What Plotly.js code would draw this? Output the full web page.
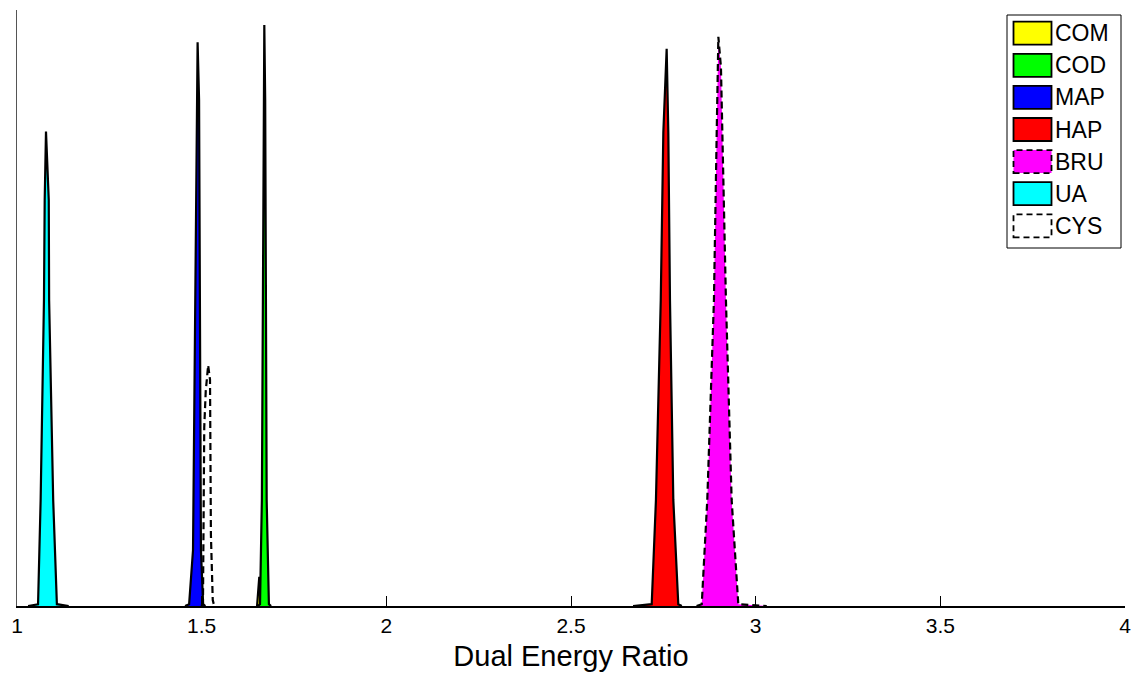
<!DOCTYPE html>
<html>
<head>
<meta charset="utf-8">
<script src="https://cdn.plot.ly/plotly-3.0.1.min.js"></script>
<style>html,body{margin:0;padding:0;background:#fff;}#chart{width:1139px;height:676px;}</style>
</head>
<body>
<div id="chart"></div>
<script>
// ---- data ----
var seriesNames = ["COM", "COD", "MAP", "HAP", "BRU", "UA", "CYS"];
var seriesColors = ["#ffff00", "#00ff00", "#0000ff", "#ff0000", "#ff00ff", "#00ffff", "#ffffff"];
var seriesDash = ["solid", "solid", "solid", "solid", "dash", "solid", "dash"];

var comX = [1.650, 1.653, 1.656, 1.659, 1.662];
var comY = [0, 0.02, 0.049, 0.02, 0];

var codX = [1.652, 1.658, 1.663, 1.666, 1.668, 1.6696, 1.672, 1.674, 1.676, 1.682, 1.688];
var codY = [0, 0.003, 0.178, 0.513, 0.849, 0.975, 0.849, 0.513, 0.178, 0.003, 0];

var mapX = [1.455, 1.466, 1.4766, 1.483, 1.487, 1.489, 1.493, 1.495, 1.498, 1.504, 1.51];
var mapY = [0, 0.003, 0.094, 0.513, 0.849, 0.946, 0.849, 0.513, 0.094, 0.003, 0];

var hapX = [2.668, 2.7185, 2.730, 2.743, 2.750, 2.759, 2.7635, 2.768, 2.777, 2.7905, 2.80];
var hapY = [0, 0.003, 0.178, 0.513, 0.794, 0.935, 0.794, 0.513, 0.178, 0.003, 0];

var bruX = [2.84, 2.854, 2.869, 2.887, 2.8945, 2.897, 2.899, 2.906, 2.91, 2.9195, 2.935, 2.953, 3.03];
var bruY = [0, 0.003, 0.178, 0.513, 0.794, 0.904, 0.955, 0.904, 0.794, 0.513, 0.178, 0.003, 0];

var uaX = [1.03, 1.057, 1.064, 1.073, 1.075, 1.0785, 1.086, 1.087, 1.098, 1.108, 1.14];
var uaY = [0, 0.003, 0.178, 0.513, 0.681, 0.796, 0.681, 0.513, 0.178, 0.003, 0];

var cysX = [1.50, 1.5036, 1.507, 1.511, 1.5175, 1.5226, 1.525, 1.530, 1.534];
var cysY = [0, 0.01, 0.30, 0.36, 0.404, 0.38, 0.12, 0.01, 0];

var tickVals = [1, 1.5, 2, 2.5, 3, 3.5, 4];
var tickText = ["1", "1.5", "2", "2.5", "3", "3.5", "4"];
var xTitle = "Dual Energy Ratio";

// ---- build traces ----
var xs = [comX, codX, mapX, hapX, bruX, uaX, cysX];
var ys = [comY, codY, mapY, hapY, bruY, uaY, cysY];
var FONT = "Liberation Sans, Arial, Helvetica, sans-serif";
var traces = [];
for (var i = 0; i < seriesNames.length; i++) {
  var isOutline = seriesNames[i] === "CYS";
  var dashed = seriesDash[i] === "dash";
  traces.push({
    type: "scatter",
    mode: "lines",
    name: seriesNames[i],
    x: xs[i],
    y: ys[i],
    fill: isOutline ? "none" : "toself",
    fillcolor: seriesColors[i],
    line: {color: "#000000", width: dashed ? 2.2 : 2.2, dash: dashed ? "7px,4px" : "solid"},
    hoverinfo: "name+x",
    showlegend: false
  });
}

// ---- custom MATLAB-style legend (layout only) ----
var W = 1139, H = 676, mL = 17, mR = 14, mT = 10, mB = 70;
var plotW = W - mL - mR, plotH = H - mT - mB;
function px2x(p) { return (p - mL) / plotW; }
function py2y(p) { return (H - mB - p) / plotH; }

var shapes = [{
  type: "rect", xref: "paper", yref: "paper",
  x0: px2x(1007), x1: px2x(1121), y0: py2y(248), y1: py2y(15),
  line: {color: "#000000", width: 1}, fillcolor: "#ffffff", layer: "above"
}];
var annotations = [];
for (var k = 0; k < seriesNames.length; k++) {
  var rowTop = 21.7 + 32.1 * k;
  shapes.push({
    type: "rect", xref: "paper", yref: "paper",
    x0: px2x(1013.5), x1: px2x(1051.5), y0: py2y(rowTop + 23), y1: py2y(rowTop),
    line: {color: "#000000", width: 1.8, dash: seriesDash[k] === "dash" ? "6px,4px" : "solid"},
    fillcolor: seriesColors[k], layer: "above"
  });
  annotations.push({
    xref: "paper", yref: "paper", x: px2x(1053), y: py2y(rowTop + 11.5),
    xanchor: "left", yanchor: "middle", showarrow: false,
    text: seriesNames[k], font: {family: FONT, size: 23, color: "#000000"}
  });
}

var layout = {
  width: W, height: H,
  margin: {l: mL, r: mR, t: mT, b: mB, pad: 0},
  paper_bgcolor: "#ffffff", plot_bgcolor: "#ffffff",
  showlegend: false,
  font: {family: FONT, color: "#000000"},
  xaxis: {
    range: [1, 4], tickmode: "array", tickvals: tickVals, ticktext: tickText,
    ticks: "inside", ticklen: 10, tickwidth: 1, tickcolor: "#000000",
    showline: true, linecolor: "#000000", linewidth: 1.5, showgrid: false, zeroline: false,
    tickfont: {family: FONT, size: 21, color: "#000000"},
    title: {text: xTitle, font: {family: FONT, size: 29, color: "#000000"}, standoff: 10},
    automargin: false
  },
  yaxis: {
    range: [0, 1], showticklabels: false, ticks: "", showgrid: false, zeroline: false,
    showline: true, linecolor: "#555555", linewidth: 1, automargin: false
  },
  shapes: shapes,
  annotations: annotations
};

Plotly.newPlot("chart", traces, layout, {displayModeBar: false, staticPlot: true});
</script>
</body>
</html>
